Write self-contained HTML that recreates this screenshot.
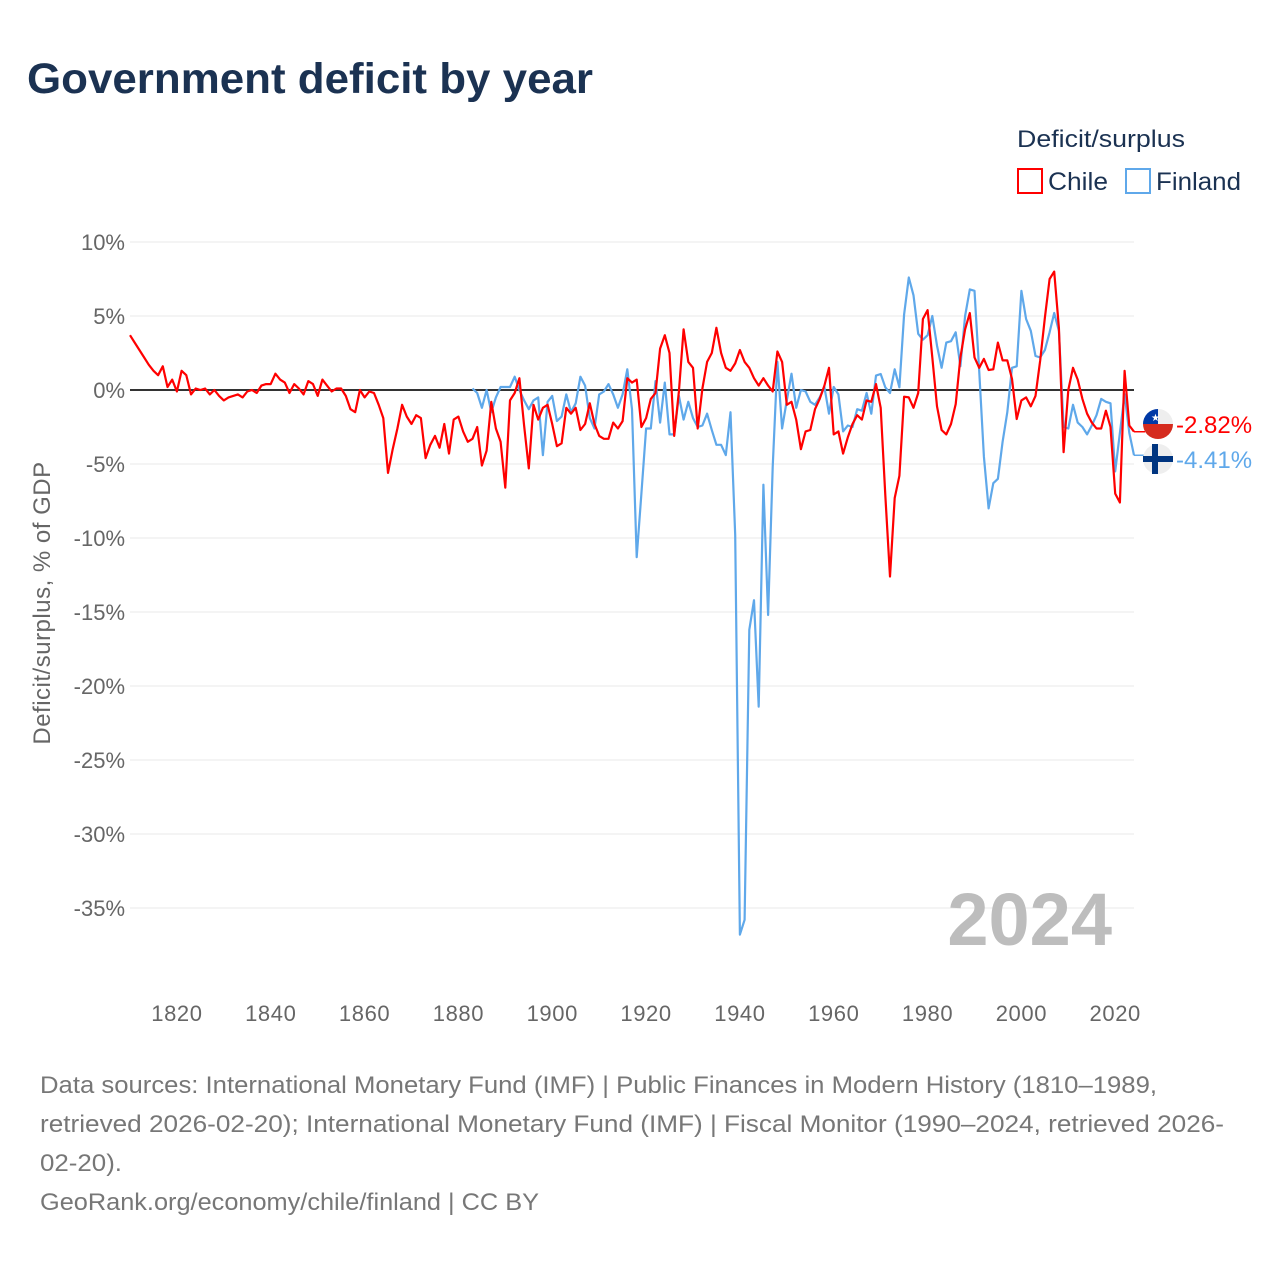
<!DOCTYPE html>
<html><head><meta charset="utf-8">
<style>
body{margin:0;background:#fff;width:1280px;height:1280px;overflow:hidden;font-family:"Liberation Sans",sans-serif}
svg text{font-family:"Liberation Sans",sans-serif}
</style></head>
<body>
<svg id="chart" width="1280" height="1280" viewBox="0 0 1280 1280">
<text x="27" y="93" font-size="43" font-weight="bold" fill="#1b3252" textLength="566" lengthAdjust="spacingAndGlyphs">Government deficit by year</text>
<g>
<text x="1017" y="147" font-size="24" fill="#1b3252" textLength="168" lengthAdjust="spacingAndGlyphs">Deficit/surplus</text>
<g><rect x="1018" y="169" width="24" height="24" fill="none" stroke="#f00" stroke-width="2"/><text x="1048" y="190" font-size="25" fill="#1b3252" textLength="60" lengthAdjust="spacingAndGlyphs">Chile</text></g>
<g><rect x="1126" y="169" width="24" height="24" fill="none" stroke="#5fa8ea" stroke-width="2"/><text x="1156" y="190" font-size="25" fill="#1b3252" textLength="85" lengthAdjust="spacingAndGlyphs">Finland</text></g>
</g>
<g id="grid"></g>
<g id="yticks"></g>
<g id="xticks"></g>
<text transform="translate(50,603) rotate(-90)" text-anchor="middle" font-size="24" fill="#666" letter-spacing="0.5">Deficit/surplus, % of GDP</text>
<text x="1112" y="945" text-anchor="end" font-size="74" font-weight="bold" fill="#bdbdbd">2024</text>
<g id="series"></g>
<g id="endlabels"></g>
<g font-size="24" fill="#777">
<text x="40" y="1093" textLength="1117" lengthAdjust="spacingAndGlyphs">Data sources: International Monetary Fund (IMF) | Public Finances in Modern History (1810–1989,</text>
<text x="40" y="1132" textLength="1184" lengthAdjust="spacingAndGlyphs">retrieved 2026-02-20); International Monetary Fund (IMF) | Fiscal Monitor (1990–2024, retrieved 2026-</text>
<text x="40" y="1171" textLength="82" lengthAdjust="spacingAndGlyphs">02-20).</text>
<text x="40" y="1210" textLength="499" lengthAdjust="spacingAndGlyphs">GeoRank.org/economy/chile/finland | CC BY</text>
</g>
</svg>
<script>
const yTicks = [10,5,0,-5,-10,-15,-20,-25,-30,-35];
const xTicks = [1820,1840,1860,1880,1900,1920,1940,1960,1980,2000,2020];
const chileStart = 1810;
const chileValues = [
3.7,3.2,2.7,2.2,1.7,1.3,1.0,1.6,0.2,0.7,
-0.1,1.3,1.0,-0.3,0.1,0.0,0.1,-0.3,0.0,-0.4,
-0.7,-0.5,-0.4,-0.3,-0.5,-0.1,0.0,-0.2,0.3,0.4,
0.4,1.1,0.7,0.5,-0.2,0.4,0.1,-0.3,0.6,0.4,
-0.4,0.7,0.3,-0.1,0.1,0.1,-0.4,-1.3,-1.5,0.0,
-0.5,-0.1,-0.2,-1.0,-1.9,-5.6,-4.0,-2.6,-1.0,-1.8,
-2.3,-1.7,-1.9,-4.6,-3.7,-3.1,-3.9,-2.3,-4.3,-2.0,
-1.8,-2.8,-3.5,-3.3,-2.5,-5.1,-4.1,-0.8,-2.6,-3.5,
-6.6,-0.7,-0.2,0.8,-2.4,-5.3,-1.0,-2.0,-1.2,-1.0,
-2.3,-3.8,-3.6,-1.2,-1.6,-1.2,-2.7,-2.3,-0.9,-2.3,
-3.1,-3.3,-3.3,-2.2,-2.6,-2.1,0.8,0.5,0.7,-2.5,
-1.9,-0.6,-0.2,2.8,3.7,2.5,-3.1,-0.1,4.1,1.9,
1.5,-2.6,0.1,1.9,2.5,4.2,2.5,1.5,1.3,1.8,
2.7,1.9,1.5,0.8,0.3,0.8,0.3,-0.1,2.6,1.9,
-1.0,-0.8,-2.0,-4.0,-2.8,-2.7,-1.3,-0.6,0.3,1.5,
-3.0,-2.8,-4.3,-3.2,-2.3,-1.7,-2.0,-0.7,-0.8,0.4,
-1.2,-7.1,-12.6,-7.3,-5.8,-0.45,-0.5,-1.2,-0.2,4.8,
5.4,2.2,-1.1,-2.7,-3.0,-2.3,-0.95,2.2,4.1,5.2,
2.2,1.5,2.1,1.35,1.4,3.2,2.0,2.0,0.75,-1.96,
-0.7,-0.5,-1.1,-0.4,2.0,4.9,7.5,8.0,4.2,-4.2,
0.0,1.5,0.7,-0.6,-1.6,-2.2,-2.6,-2.6,-1.4,-2.5,
-7.0,-7.6,1.3,-2.4,-2.82];
const finlandStart = 1883;
const finlandValues = [
0.1,-0.2,-1.2,0.0,-1.5,-0.5,0.2,0.2,0.2,0.9,
0.0,-0.7,-1.3,-0.7,-0.5,-4.4,-0.8,-0.4,-2.1,-1.8,
-0.3,-1.5,-0.9,0.9,0.3,-1.9,-2.6,-0.3,-0.1,0.4,
-0.3,-1.2,-0.3,1.4,-1.3,-11.3,-7.0,-2.6,-2.6,0.6,
-2.2,0.5,-3.0,-3.0,-0.4,-2.0,-0.8,-1.9,-2.5,-2.4,
-1.6,-2.7,-3.7,-3.7,-4.4,-1.5,-9.8,-36.8,-35.8,-16.2,
-14.2,-21.4,-6.4,-15.2,-5.2,1.9,-2.6,-0.7,1.1,-1.2,
0.0,-0.1,-0.8,-1.0,-0.5,0.2,-1.6,0.2,-0.3,-2.8,
-2.4,-2.5,-1.3,-1.4,-0.2,-1.6,
0.97,1.08,0.18,-0.2,1.4,0.18,5.1,7.6,6.4,3.8,
3.4,3.7,5.0,3.0,1.5,3.2,3.3,3.9,1.6,5.0,
6.8,6.7,1.3,-4.5,-8.0,-6.3,-6.0,-3.5,-1.5,1.5,
1.6,6.7,4.8,4.0,2.3,2.2,2.7,3.9,5.2,4.0,
-2.5,-2.6,-1.0,-2.2,-2.5,-3.0,-2.4,-1.7,-0.6,-0.8,
-0.9,-5.5,-2.9,-0.3,-2.9,-4.41];

const NS='http://www.w3.org/2000/svg';
const X0=130, X1=1134, Y0=390, PX=14.8;
function xs(yr){return X0+(yr-1810)*(X1-X0)/(2024-1810);}
function ys(v){return Y0-v*PX;}
function mk(tag,attrs,parent){const e=document.createElementNS(NS,tag);for(const k in attrs)e.setAttribute(k,attrs[k]);parent.appendChild(e);return e;}
const grid=document.getElementById('grid'), yt=document.getElementById('yticks'), xt=document.getElementById('xticks');
yTicks.forEach(t=>{
  const l=mk('line',{x1:X0,x2:X1,y1:ys(t),y2:ys(t),stroke:t===0?'#333':'#e8e8e8','stroke-width':t===0?2:1},grid);
  
  
  const tx=mk('text',{x:125,y:ys(t)+8,'text-anchor':'end','font-size':22,fill:'#666'},yt);
  tx.textContent=t+'%';
  
  
});
xTicks.forEach(t=>{
  const tx=mk('text',{x:xs(t),y:1021,'text-anchor':'middle','font-size':22,fill:'#666','letter-spacing':0.6},xt);
  tx.textContent=t;
  
  
});
const series=document.getElementById('series');
function drawLine(start,vals,color,name){
  const pts=vals.map((v,i)=>xs(start+i).toFixed(1)+','+ys(v).toFixed(1)).join(' ');
  const p=mk('polyline',{points:pts,fill:'none',stroke:color,'stroke-width':2.2,'stroke-linejoin':'round'},series);
  
  
}
drawLine(finlandStart,finlandValues,'#5fa8ea','finland-line');
drawLine(chileStart,chileValues,'#f00','chile-line');
const el=document.getElementById('endlabels');
function endLabel(val,color,cy,name,flag){
  const y=ys(val);
  mk('line',{x1:X1,x2:1145,y1:y,y2:y,stroke:color,'stroke-width':1.5},el);
  const g=mk('g',{},el);
  
  
  mk('circle',{cx:1158,cy:cy,r:15,fill:'#eee'},g);
  flag(g,cy);
  const t=mk('text',{x:1176,y:cy+9,'font-size':24,fill:color},g);
  t.textContent=val.toFixed(2)+'%';
}
endLabel(chileValues[chileValues.length-1],'#f00',424,'chile-end-label',(g,cy)=>{
  mk('path',{d:`M1143,${cy} A15,15 0 0 0 1173,${cy} Z`,fill:'#d52b1e'},g);
  mk('path',{d:`M1158,${cy-15} A15,15 0 0 0 1143,${cy} L1158,${cy} Z`,fill:'#0039a6'},g);
  mk('text',{x:1151,y:cy-3,'font-size':10,fill:'#fff'},g).textContent='★';
});
endLabel(finlandValues[finlandValues.length-1],'#5fa8ea',459,'finland-end-label',(g,cy)=>{
  mk('rect',{x:1143,y:cy-3,width:30,height:6,fill:'#003580'},g);
  mk('rect',{x:1152,y:cy-15,width:6,height:30,fill:'#003580'},g);
});
</script>
</body></html>
